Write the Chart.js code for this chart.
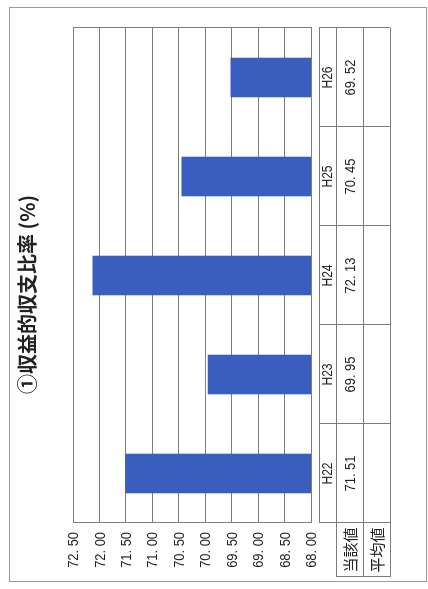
<!DOCTYPE html>
<html>
<head>
<meta charset="utf-8">
<script src="https://cdn.jsdelivr.net/npm/chart.js@4.4.1/dist/chart.umd.min.js"></script>
<style>
    html, body { margin: 0; padding: 0; background: #fff; overflow: hidden; }
    #page {
        position: absolute;
        left: 0;
        top: 0;
        width: 589px;
        height: 428px;
        transform-origin: 0 0;
        transform: translateY(589px) rotate(-90deg);
    }
</style>
</head>
<body>
<div id="page"><canvas id="chart" width="589" height="428"></canvas></div>
<script>
const years = ["H22", "H23", "H24", "H25", "H26"];
const values = [71.51, 69.95, 72.13, 70.45, 69.52];
const averages = ["", "", "", "", ""];
const rowLabels = ["当該値", "平均値"];
const titleText = "①収益的収支比率 (%)";

const numFont = "'Liberation Sans', Arial, sans-serif";
const jpFont = "'Noto Sans CJK JP', sans-serif";
const lineColor = "#7d7d7d";
const squeeze = 0.86; // numbers in the scan are a narrow face

function fmt(v) {
    return Number(v).toFixed(2).replace(".", ". ");
}

function narrowText(ctx, text, x, y, align) {
    ctx.save();
    ctx.translate(x, y);
    ctx.scale(squeeze, 1);
    ctx.textAlign = align;
    ctx.fillText(text, 0, 0);
    ctx.restore();
}

// outer frame, y labels and the data table under the plot
const sheet = {
    id: "sheet",
    beforeDraw(chart) {
        const ctx = chart.ctx;
        ctx.save();
        ctx.fillStyle = "#fff";
        ctx.fillRect(0, 0, chart.width, chart.height);
        ctx.strokeStyle = "#9a9a9a";
        ctx.lineWidth = 1;
        ctx.strokeRect(7.5, 9.5, chart.width - 15, chart.height - 11);
        ctx.restore();
    },
    afterDraw(chart) {
        const ctx = chart.ctx;
        const area = chart.chartArea;
        const xs = chart.scales.x;
        const ys = chart.scales.y;
        const band = (area.right - area.left) / years.length;
        const top = area.bottom + 8;
        const rows = [top, top + 17, top + 44, top + 71];
        ctx.save();
        ctx.strokeStyle = lineColor;
        ctx.lineWidth = 1;
        ctx.strokeRect(area.left + 0.5, area.top + 0.5, area.right - area.left, area.bottom - area.top);

        // y tick labels
        ctx.fillStyle = "#222";
        ctx.textBaseline = "middle";
        ctx.font = "15px " + numFont;
        ys.ticks.forEach(t => {
            narrowText(ctx, fmt(t.value), area.left - 9, ys.getPixelForValue(t.value) + 1, "right");
        });

        // table grid
        ctx.beginPath();
        rows.forEach(y => {
            ctx.moveTo(area.left, y + 0.5);
            ctx.lineTo(area.right, y + 0.5);
        });
        for (let i = 0; i <= years.length; i++) {
            const x = Math.round(area.left + band * i) + 0.5;
            ctx.moveTo(x, rows[0]);
            ctx.lineTo(x, rows[3]);
        }
        ctx.moveTo(12, rows[1] + 0.5); ctx.lineTo(area.left, rows[1] + 0.5);
        ctx.moveTo(12, rows[2] + 0.5); ctx.lineTo(area.left, rows[2] + 0.5);
        ctx.moveTo(12, rows[3] + 0.5); ctx.lineTo(area.left, rows[3] + 0.5);
        ctx.moveTo(12.5, rows[1]); ctx.lineTo(12.5, rows[3]);
        ctx.stroke();

        years.forEach((y, i) => {
            const cx = xs.getPixelForValue(i);
            ctx.font = "14px " + numFont;
            narrowText(ctx, y, cx, (rows[0] + rows[1]) / 2 + 1, "center");
            ctx.font = "15px " + numFont;
            narrowText(ctx, fmt(values[i]), cx, (rows[1] + rows[2]) / 2 + 1, "center");
            narrowText(ctx, averages[i], cx, (rows[2] + rows[3]) / 2 + 1, "center");
        });
        ctx.font = "15px " + jpFont;
        ctx.textAlign = "center";
        rowLabels.forEach((t, i) => {
            ctx.fillText(t, (12 + area.left) / 2, (rows[i + 1] + rows[i + 2]) / 2 + 1);
        });
        ctx.restore();
    }
};

new Chart(document.getElementById("chart"), {
    type: "bar",
    data: {
        labels: years,
        datasets: [{
            label: "当該値",
            data: values,
            backgroundColor: "#3a5ec0",
            borderWidth: 0,
            categoryPercentage: 1,
            barPercentage: 0.4
        }]
    },
    options: {
        responsive: false,
        animation: false,
        devicePixelRatio: 1,
        layout: { padding: { left: 28, right: 28, top: 0, bottom: 117 } },
        plugins: {
            legend: { display: false },
            tooltip: { enabled: false },
            title: {
                display: true,
                text: titleText,
                color: "#222",
                font: { family: jpFont, size: 20, weight: "bold", lineHeight: 1.2 },
                padding: { top: 15, bottom: 34 }
            }
        },
        scales: {
            x: {
                display: false,
                offset: true
            },
            y: {
                min: 68,
                max: 72.5,
                afterFit(scale) { scale.width = 38; },
                ticks: { stepSize: 0.5, display: false },
                grid: { color: lineColor, lineWidth: 1, drawTicks: false },
                border: { display: true, color: lineColor }
            }
        }
    },
    plugins: [sheet]
});
</script>
</body>
</html>
